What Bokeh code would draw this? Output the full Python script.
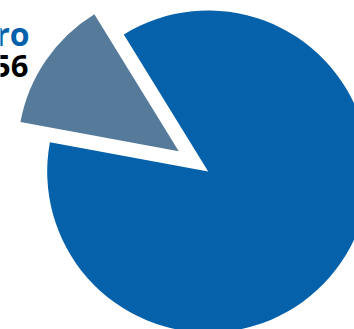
import numpy as np
from bokeh.plotting import figure
from bokeh.models import Range1d, ColumnDataSource
from bokeh.core.properties import value
from bokeh.embed import file_html
from bokeh.resources import INLINE

# Data
categories = ["Principal", "Otro"]
values = [86.7, 13.3]
colors = ["#0562AA", "#557A9A"]
explode = [0.0, 35.7]
label_name = "ro"
label_value = "56"

W, H = 354, 329
p = figure(width=W, height=H, output_backend="svg", toolbar_location=None,
           x_range=Range1d(0, W), y_range=Range1d(0, H), min_border=0)
p.axis.visible = False
p.grid.visible = False
p.outline_line_color = None
p.background_fill_color = "white"
p.border_fill_color = "white"

cx, cy, r = 207.7, H - 171.0, 161.0
total = sum(values)
fracs = np.array(values) / total * 2 * np.pi
start0 = np.deg2rad(169.5)
starts = start0 + np.concatenate([[0], np.cumsum(fracs)[:-1]])
ends = starts + fracs
mids = (starts + ends) / 2
xs = [cx + e * np.cos(m) for e, m in zip(explode, mids)]
ys = [cy + e * np.sin(m) for e, m in zip(explode, mids)]

src = ColumnDataSource(dict(x=xs, y=ys, start=list(starts), end=list(ends),
                            color=colors, cat=categories))
p.wedge(x="x", y="y", radius=r, start_angle="start", end_angle="end",
        fill_color="color", line_color=None, source=src)

p.text(x=[29], y=[H - 33], text=[label_name], text_color="#0562AA",
       text_font=value("Open Sans"), text_font_style="bold", text_font_size="32px",
       text_align="right", text_baseline="alphabetic")
p.text(x=[28], y=[H - 65], text=[label_value], text_color="#000000",
       text_font=value("Open Sans"), text_font_style="bold", text_font_size="31px",
       text_align="right", text_baseline="alphabetic")

open("out.html", "w").write(file_html(p, INLINE))
